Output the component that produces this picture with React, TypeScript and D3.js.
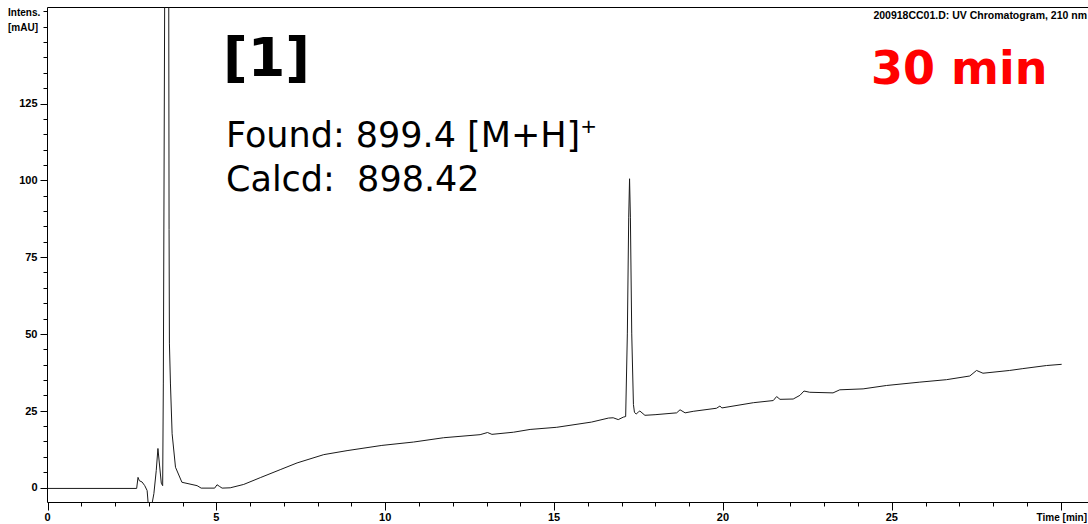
import React from "react";
import * as d3 from "d3";

// Retention time (min) and UV absorbance (mAU)
const times = [
  0, 2.64, 2.68, 2.72, 2.8, 2.88, 2.95, 2.98, 3.1, 3.15, 3.22, 3.27, 3.32, 3.37, 3.41,
  3.43, 3.47, 3.53, 3.59, 3.6, 3.61, 3.64, 3.69, 3.79, 3.98, 4.43, 4.55, 4.95, 5.02, 5.1,
  5.17, 5.41, 5.81, 6.3, 6.89, 7.39, 8.18, 8.87, 9.9, 10.84, 11.73, 12.81, 13.03, 13.16,
  13.8, 14.29, 15.08, 16.11, 16.61, 16.75, 16.9, 17.05, 17.12, 17.17, 17.21, 17.235,
  17.26, 17.3, 17.35, 17.38, 17.43, 17.5, 17.54, 17.69, 17.99, 18.63, 18.73, 18.88, 19.12,
  19.81, 19.91, 19.97, 20.9, 21.49, 21.59, 21.69, 22.08, 22.28, 22.4, 22.57, 23.26, 23.46,
  24.15, 24.84, 25.83, 26.62, 27.31, 27.51, 27.7, 28.49, 28.88, 29.58, 30.03,
];
const intensity = [
  -0.3, -0.3, 3.3, 2.2, 1.8, 0.6, -1.0, -5, -5, -2, 5.5, 12.7, 7, 1.4, 0.6,
  34, 160, 1500, 160, 84, 47, 34, 17.5, 6.6, 1.7, 0.6, -0.2, -0.2, 0.9, 0.3,
  -0.2, -0.1, 1.0, 3.2, 5.8, 8.0, 10.7, 12.0, 13.7, 14.8, 16.2, 17.2, 17.9, 17.3,
  18.0, 18.9, 19.6, 21.3, 22.6, 22.7, 22.1, 22.9, 23.1, 50, 88, 100.5,
  88, 50, 27, 24.5, 23.9, 24.6, 24.9, 23.5, 23.7, 24.3, 25.3, 24.3, 24.8,
  25.8, 26.5, 25.9, 27.6, 28.3, 29.6, 28.7, 28.8, 30.0, 31.4, 31.0, 30.8, 31.8,
  32.1, 33.2, 34.3, 35.1, 36.3, 38.1, 37.2, 38.1, 38.7, 39.7, 40.1,
];

const xTickLabels = [0, 5, 10, 15, 20, 25];
const xMajorTicks = [0, 5, 10, 15, 20, 25, 30];
const xMinorTicks = d3.range(0, 31, 1);
const yTickLabels = [0, 25, 50, 75, 100, 125];
const yMinorTicks = d3.range(0, 156, 5);

const chartTitle = "200918CC01.D: UV Chromatogram, 210 nm";
const yLabelLines = ["Intens.", "[mAU]"];
const xLabel = "Time [min]";
const compoundLabel = "[1]";
const foundText = "Found: 899.4 [M+H]";
const calcdText = "Calcd:  898.42";
const timeNote = "30 min";

const W = 1088;
const H = 524;
const left = 47.5;
const right = 1088;
const top = 7.5;
const bottom = 502.5;

export default function App() {
  const x = d3.scaleLinear().domain([0, 30.81]).range([left, right]);
  const y = d3.scaleLinear().domain([0, 125]).range([487.5, 103.5]);
  const pts: [number, number][] = times.map((t, i) => [t, intensity[i]]);
  const line = d3
    .line<[number, number]>()
    .x((d) => x(d[0]))
    .y((d) => y(d[1]));

  const tickFont = { fontFamily: "Liberation Sans, Arial, sans-serif", fontWeight: 700, fontSize: 11 };

  return (
    <svg
      width={W}
      height={H}
      style={{ position: "absolute", left: 0, top: 0, background: "#fff" }}
    >
      <defs>
        <clipPath id="plotClip">
          <rect x={left} y={top} width={right - left} height={bottom - top} />
        </clipPath>
      </defs>
      <rect x={0} y={0} width={W} height={H} fill="#fff" />

      {/* frame */}
      <line x1={left} x2={right} y1={top} y2={top} stroke="#000" strokeWidth={1} />
      <line x1={left} x2={left} y1={top} y2={bottom} stroke="#000" strokeWidth={1} />
      <line x1={left} x2={right} y1={bottom} y2={bottom} stroke="#000" strokeWidth={1} />

      {/* y ticks */}
      {yMinorTicks.map((v) => (
        <line key={"ym" + v} x1={left - 4} x2={left} y1={Math.round(y(v)) + 0.5} y2={Math.round(y(v)) + 0.5} stroke="#000" />
      ))}
      {yTickLabels.map((v) => (
        <g key={"yl" + v}>
          <line x1={left - 7} x2={left} y1={Math.round(y(v)) + 0.5} y2={Math.round(y(v)) + 0.5} stroke="#000" />
          <text x={left - 10} y={y(v)} dy="0.36em" textAnchor="end" style={tickFont}>
            {v}
          </text>
        </g>
      ))}

      {/* x ticks */}
      {xMinorTicks.map((v) => (
        <line key={"xm" + v} x1={Math.round(x(v)) + 0.5} x2={Math.round(x(v)) + 0.5} y1={bottom} y2={bottom + 4} stroke="#000" />
      ))}
      {xMajorTicks.map((v) => (
        <line key={"xM" + v} x1={Math.round(x(v)) + 0.5} x2={Math.round(x(v)) + 0.5} y1={bottom} y2={bottom + 8} stroke="#000" />
      ))}
      {xTickLabels.map((v) => (
        <text key={"xl" + v} x={x(v)} y={521} textAnchor="middle" style={tickFont}>
          {v}
        </text>
      ))}
      <text x={1087} y={521} textAnchor="end" style={{ ...tickFont, fontSize: 10 }}>
        {xLabel}
      </text>

      {/* y axis label */}
      {yLabelLines.map((s, i) => (
        <text key={s} x={8} y={16 + i * 15} style={{ ...tickFont, fontSize: 10 }}>
          {s}
        </text>
      ))}

      {/* title */}
      <text x={1087} y={19} textAnchor="end" style={{ ...tickFont, fontSize: 10.5 }}>
        {chartTitle}
      </text>

      {/* trace */}
      <g clipPath="url(#plotClip)">
        <path d={line(pts) || ""} fill="none" stroke="#1a1a1a" strokeWidth={1} />
      </g>

      {/* annotations */}
      <text x={223} y={76} style={{ fontFamily: "DejaVu Sans", fontWeight: 700, fontSize: 54 }}>
        {compoundLabel}
      </text>
      <text x={226} y={147} style={{ fontFamily: "DejaVu Sans", fontSize: 35 }}>
        {foundText}
        <tspan dy={-14} fontSize={20}>+</tspan>
      </text>
      <text x={226} y={191} style={{ fontFamily: "DejaVu Sans", fontSize: 35, whiteSpace: "pre" }} xmlSpace="preserve">
        {calcdText}
      </text>
      <text x={871} y={84} fill="#ff0000" style={{ fontFamily: "DejaVu Sans", fontWeight: 700, fontSize: 46 }}>
        {timeNote}
      </text>
    </svg>
  );
}
